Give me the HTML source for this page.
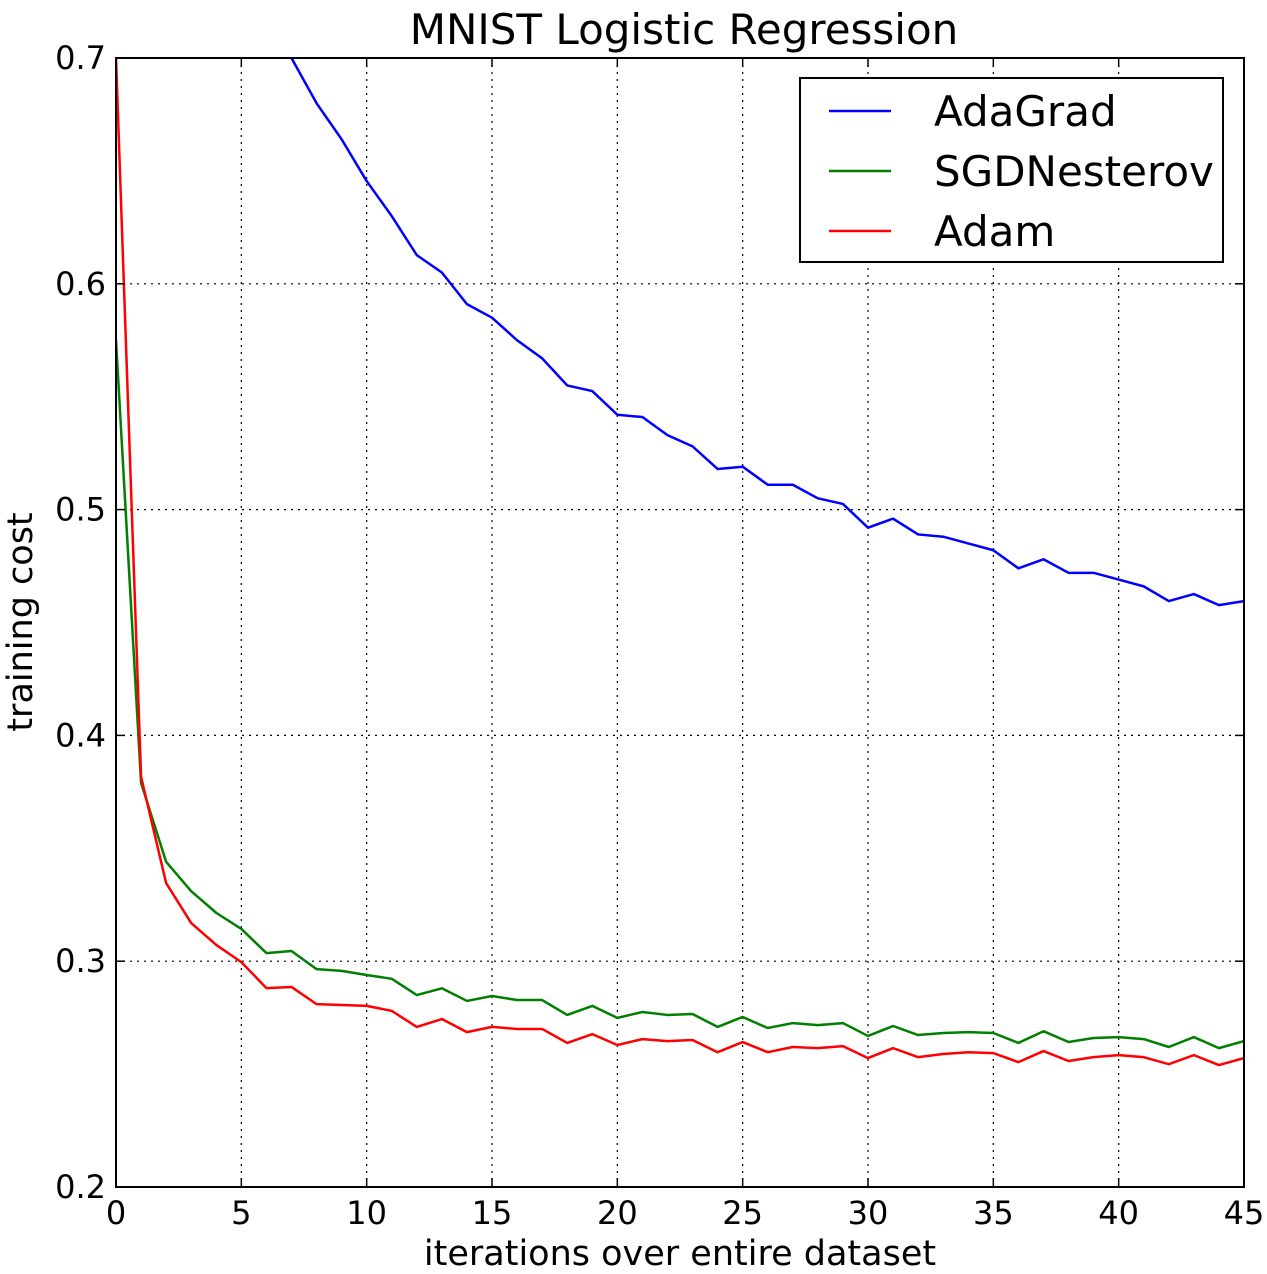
<!DOCTYPE html>
<html><head><meta charset="utf-8"><style>
body{margin:0;background:#fff}
svg{display:block;font-family:"DejaVu Sans","Liberation Sans",sans-serif}
</style></head><body>
<svg id="chart" width="1267" height="1274" viewBox="0 0 1267 1274" xmlns="http://www.w3.org/2000/svg">
<defs><clipPath id="plotclip"><rect x="116" y="58" width="1128" height="1129"/></clipPath></defs>
<rect width="1267" height="1274" fill="#fff"/>
<text x="684" y="44" font-size="42" text-anchor="middle">MNIST Logistic Regression</text>
<text x="680" y="1265" font-size="35" text-anchor="middle">iterations over entire dataset</text>
<text transform="translate(32,622) rotate(-90)" font-size="35" text-anchor="middle">training cost</text>
<g id="grid"></g>
<g id="series" clip-path="url(#plotclip)"></g>
<rect x="116" y="58" width="1128" height="1129" fill="none" stroke="#000" stroke-width="2"/>
<g id="ticks"></g>
<g>
<rect x="800" y="78" width="423" height="184" fill="#fff" stroke="#000" stroke-width="2"/>
<line x1="829" y1="111" x2="891" y2="111" stroke="#0000ff" stroke-width="2.5"/>
<text x="934" y="126" font-size="42">AdaGrad</text>
<line x1="829" y1="171" x2="891" y2="171" stroke="#007f00" stroke-width="2.5"/>
<text x="934" y="186" font-size="42">SGDNesterov</text>
<line x1="829" y1="231" x2="891" y2="231" stroke="#ff0000" stroke-width="2.5"/>
<text x="934" y="246" font-size="42">Adam</text>
</g>
</svg>
<script>
const xTicks=[0,5,10,15,20,25,30,35,40,45];
const yTicks=[0.2,0.3,0.4,0.5,0.6,0.7];
const yTickLabels=["0.2","0.3","0.4","0.5","0.6","0.7"];
const adagrad=[1.2,0.95,0.85,0.8,0.76,0.74,0.72,0.70,0.680,0.664,0.6455,0.630,0.6127,0.605,0.591,0.585,0.575,0.567,0.555,0.5525,0.542,0.541,0.533,0.528,0.518,0.519,0.511,0.511,0.505,0.5025,0.492,0.496,0.489,0.488,0.485,0.482,0.474,0.478,0.472,0.472,0.469,0.466,0.4595,0.4626,0.4577,0.4595];
const sgdNesterov=[0.575,0.379,0.344,0.331,0.3214,0.3143,0.3036,0.3045,0.2965,0.2957,0.2939,0.2922,0.285,0.288,0.2824,0.2846,0.2828,0.2828,0.2762,0.2802,0.2749,0.2775,0.2762,0.2766,0.2709,0.2753,0.2704,0.2726,0.2717,0.2726,0.2669,0.2713,0.2673,0.2682,0.2686,0.2682,0.2638,0.269,0.2642,0.266,0.2664,0.2655,0.262,0.2664,0.2615,0.2646];
const adam=[0.7,0.3816,0.3346,0.3169,0.3072,0.2996,0.2881,0.2886,0.281,0.2806,0.2802,0.278,0.2709,0.2744,0.2686,0.2709,0.27,0.27,0.2638,0.2677,0.2629,0.2655,0.2646,0.2651,0.2597,0.2642,0.2597,0.262,0.2615,0.2624,0.2571,0.2615,0.2575,0.2589,0.2597,0.2593,0.2553,0.2602,0.2558,0.2575,0.2584,0.2575,0.2544,0.2584,0.254,0.2571];
const X=v=>116+(v-0)/45*1128;
const Y=v=>1187-(v-0.2)/0.5*1129;
const NS="http://www.w3.org/2000/svg";
const grid=document.getElementById('grid'),ticks=document.getElementById('ticks'),series=document.getElementById('series');
function mk(tag,attrs,parent){const e=document.createElementNS(NS,tag);for(const k in attrs)e.setAttribute(k,attrs[k]);parent.appendChild(e);return e;}
xTicks.forEach(t=>{
  const g=mk('line',{x1:X(t),x2:X(t),y1:58,y2:1187,stroke:'#000','stroke-width':1.2,'stroke-dasharray':'2,5'},grid);
  
  
  mk('line',{x1:X(t),x2:X(t),y1:1187,y2:1178,stroke:'#000','stroke-width':1.5},ticks);
  mk('line',{x1:X(t),x2:X(t),y1:58,y2:67,stroke:'#000','stroke-width':1.5},ticks);
  const l=mk('text',{x:X(t),y:1224,'font-size':32,'text-anchor':'middle'},ticks);
  l.textContent=t;
  
  
});
yTicks.forEach((t,i)=>{
  const g=mk('line',{x1:116,x2:1244,y1:Y(t),y2:Y(t),stroke:'#000','stroke-width':1.2,'stroke-dasharray':'2,5'},grid);
  
  
  mk('line',{x1:116,x2:125,y1:Y(t),y2:Y(t),stroke:'#000','stroke-width':1.5},ticks);
  mk('line',{x1:1244,x2:1235,y1:Y(t),y2:Y(t),stroke:'#000','stroke-width':1.5},ticks);
  const l=mk('text',{x:106,y:Y(t)+11,'font-size':32,'text-anchor':'end'},ticks);
  l.textContent=yTickLabels[i];
  
  
});
[[adagrad,'#0000ff','adagrad-line'],[sgdNesterov,'#007f00','sgdnesterov-line'],[adam,'#ff0000','adam-line']].forEach(([d,c,n])=>{
  const p=mk('polyline',{points:d.map((v,i)=>X(i)+','+Y(v)).join(' '),fill:'none',stroke:c,'stroke-width':2.5,'stroke-linejoin':'round'},series);
  
  
});
</script>
</body></html>
